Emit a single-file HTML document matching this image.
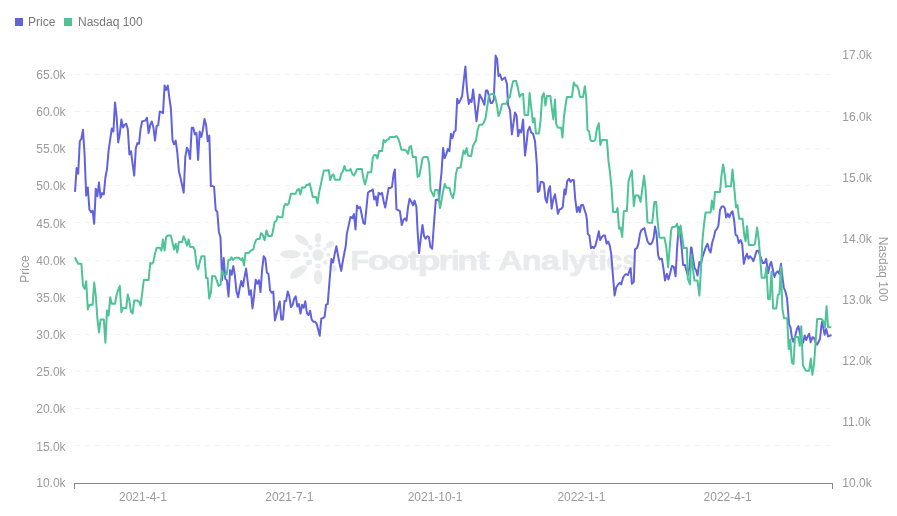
<!DOCTYPE html>
<html><head><meta charset="utf-8"><title>Price vs Nasdaq 100</title>
<style>
html,body{margin:0;padding:0;background:#fff;}
body{width:897px;height:516px;overflow:hidden;font-family:"Liberation Sans",Arial,sans-serif;}
svg{display:block}
text{font-family:"Liberation Sans",Arial,sans-serif;font-size:12px;fill:#9a9a9a}
</style></head><body>
<svg width="897" height="516" viewBox="0 0 897 516">
<rect width="897" height="516" fill="#fff"/>
<g stroke="#f2f2f2" stroke-width="1" stroke-dasharray="5 5"><line x1="75" x2="833" y1="445.50" y2="445.50"/><line x1="75" x2="833" y1="408.50" y2="408.50"/><line x1="75" x2="833" y1="371.50" y2="371.50"/><line x1="75" x2="833" y1="334.50" y2="334.50"/><line x1="75" x2="833" y1="297.50" y2="297.50"/><line x1="75" x2="833" y1="260.50" y2="260.50"/><line x1="75" x2="833" y1="222.50" y2="222.50"/><line x1="75" x2="833" y1="185.50" y2="185.50"/><line x1="75" x2="833" y1="148.50" y2="148.50"/><line x1="75" x2="833" y1="111.50" y2="111.50"/><line x1="75" x2="833" y1="74.50" y2="74.50"/></g>
<g id="wm" fill="#e9eaec">
<circle cx="318.1" cy="255" r="5.8"/>
<ellipse cx="290.4" cy="254.2" rx="10.3" ry="4.2"/>
<ellipse cx="302" cy="240" rx="8" ry="3.6" transform="rotate(36 302 240)"/>
<ellipse cx="318.1" cy="238" rx="3.3" ry="4.9"/>
<ellipse cx="330" cy="244.4" rx="4.3" ry="3" transform="rotate(-36 330 244.4)"/>
<ellipse cx="332.8" cy="268.1" rx="4.3" ry="3.2" transform="rotate(40 332.8 268.1)"/>
<ellipse cx="318.1" cy="277.2" rx="4.2" ry="7.3"/>
<ellipse cx="298.4" cy="272" rx="10" ry="4.2" transform="rotate(-36 298.4 272)"/>
<ellipse cx="306" cy="254.5" rx="3" ry="2.7"/>
<ellipse cx="310.1" cy="247.4" rx="2.8" ry="2.2" transform="rotate(36 310.1 247.4)"/>
<ellipse cx="318.1" cy="245.4" rx="2.7" ry="1.9"/>
<circle cx="324.8" cy="248.9" r="1.8"/>
<circle cx="328.2" cy="255" r="2.1"/>
<circle cx="325.2" cy="262.5" r="2.2"/>
<ellipse cx="318.1" cy="265.9" rx="2.7" ry="2.3"/>
<ellipse cx="309" cy="262.8" rx="3.3" ry="2.5" transform="rotate(-36 309 262.8)"/>
<text y="269.6" style="font-size:28.5px;font-weight:bold;fill:#e9eaec;stroke:#e9eaec;stroke-width:0.7px;stroke-linejoin:round"><tspan x="350.52" textLength="18.56" lengthAdjust="spacingAndGlyphs">F</tspan><tspan x="367.45" textLength="22.13" lengthAdjust="spacingAndGlyphs">o</tspan><tspan x="387.55" textLength="22.13" lengthAdjust="spacingAndGlyphs">o</tspan><tspan x="407.85" textLength="11.60" lengthAdjust="spacingAndGlyphs">t</tspan><tspan x="417.43" textLength="23.22" lengthAdjust="spacingAndGlyphs">p</tspan><tspan x="438.51" textLength="13.68" lengthAdjust="spacingAndGlyphs">r</tspan><tspan x="450.67" textLength="9.26" lengthAdjust="spacingAndGlyphs">i</tspan><tspan x="457.53" textLength="20.40" lengthAdjust="spacingAndGlyphs">n</tspan><tspan x="477.22" textLength="12.57" lengthAdjust="spacingAndGlyphs">t</tspan><tspan x="498.15" textLength="24.58" lengthAdjust="spacingAndGlyphs">A</tspan><tspan x="521.67" textLength="20.03" lengthAdjust="spacingAndGlyphs">n</tspan><tspan x="540.76" textLength="19.31" lengthAdjust="spacingAndGlyphs">a</tspan><tspan x="560.77" textLength="9.26" lengthAdjust="spacingAndGlyphs">l</tspan><tspan x="568.56" textLength="18.95" lengthAdjust="spacingAndGlyphs">y</tspan><tspan x="587.36" textLength="11.28" lengthAdjust="spacingAndGlyphs">t</tspan><tspan x="598.07" textLength="9.26" lengthAdjust="spacingAndGlyphs">i</tspan><tspan x="606.23" textLength="16.28" lengthAdjust="spacingAndGlyphs">c</tspan><tspan x="622.45" textLength="13.56" lengthAdjust="spacingAndGlyphs">s</tspan></text>
</g><g>
<rect x="15" y="18" width="8" height="8" fill="#6262de"/>
<text x="28" y="25.5" style="fill:#777">Price</text>
<rect x="64" y="18" width="8" height="8" fill="#4dc396"/>
<text x="78" y="25.5" style="fill:#777">Nasdaq 100</text>
</g>
<g><text x="65.6" y="487.10" text-anchor="end">10.0k</text><text x="65.6" y="450.62" text-anchor="end">15.0k</text><text x="65.6" y="413.44" text-anchor="end">20.0k</text><text x="65.6" y="376.26" text-anchor="end">25.0k</text><text x="65.6" y="339.08" text-anchor="end">30.0k</text><text x="65.6" y="301.90" text-anchor="end">35.0k</text><text x="65.6" y="264.72" text-anchor="end">40.0k</text><text x="65.6" y="227.54" text-anchor="end">45.0k</text><text x="65.6" y="190.36" text-anchor="end">50.0k</text><text x="65.6" y="153.18" text-anchor="end">55.0k</text><text x="65.6" y="116.00" text-anchor="end">60.0k</text><text x="65.6" y="78.82" text-anchor="end">65.0k</text></g>
<g><text x="842.3" y="487.00">10.0k</text><text x="842.3" y="426.26">11.0k</text><text x="842.3" y="365.12">12.0k</text><text x="842.3" y="303.98">13.0k</text><text x="842.3" y="242.84">14.0k</text><text x="842.3" y="181.70">15.0k</text><text x="842.3" y="120.56">16.0k</text><text x="842.3" y="59.42">17.0k</text></g>
<g><text x="143" y="501.3" text-anchor="middle">2021-4-1</text><text x="289.3" y="501.3" text-anchor="middle">2021-7-1</text><text x="435" y="501.3" text-anchor="middle">2021-10-1</text><text x="581.4" y="501.3" text-anchor="middle">2022-1-1</text><text x="727.6" y="501.3" text-anchor="middle">2022-4-1</text></g>
<text transform="translate(29,269) rotate(-90)" text-anchor="middle">Price</text>
<text transform="translate(878.7,269) rotate(90)" text-anchor="middle">Nasdaq 100</text>
<polyline fill="none" stroke="#6262de" stroke-width="2" stroke-linejoin="round" points="75.0,191.9 76.6,168.1 78.2,173.8 79.8,141.2 81.4,138.8 83.0,129.8 84.6,155.0 86.2,195.6 87.8,187.5 89.4,209.4 91.0,212.2 92.6,210.6 94.2,223.8 95.8,188.8 97.4,196.2 99.0,182.5 100.6,197.8 102.2,193.1 103.8,194.4 105.4,177.5 107.0,169.0 108.6,150.6 110.2,139.4 111.8,128.5 113.4,131.5 115.0,102.5 116.6,116.2 118.2,142.5 119.8,133.8 121.4,119.4 123.0,127.5 124.6,124.8 126.2,123.8 127.8,129.0 129.4,154.4 131.0,151.2 132.6,164.0 134.2,175.6 135.8,148.5 137.4,143.1 139.0,143.8 140.6,128.8 142.2,121.2 143.8,120.9 145.4,120.5 147.0,117.8 148.6,133.1 150.2,125.0 151.8,121.5 153.4,127.5 155.0,140.6 156.6,126.2 158.2,125.2 159.8,111.5 161.4,112.2 163.0,113.1 164.6,85.4 166.2,90.0 167.8,85.6 169.4,98.1 170.9,108.5 172.5,140.0 174.1,144.4 175.7,140.6 177.3,152.5 178.9,171.2 180.5,177.8 182.1,185.2 183.7,192.8 185.3,156.9 186.9,147.8 188.5,151.0 190.1,159.0 191.7,127.8 193.3,127.8 194.9,134.4 196.5,133.1 198.1,160.0 199.7,131.5 201.3,136.9 202.9,130.0 204.5,119.0 206.1,125.0 207.7,141.2 209.3,135.6 210.9,186.0 212.5,186.0 214.1,186.9 215.7,210.0 217.3,211.9 218.9,231.9 220.5,237.5 222.1,280.0 223.7,258.1 225.3,278.8 226.9,280.4 228.5,296.5 230.1,270.1 231.7,274.7 233.3,266.1 234.9,275.7 236.5,291.8 238.1,297.3 239.7,288.3 241.3,281.0 242.9,286.5 244.5,277.2 246.1,268.6 247.7,281.7 249.3,294.8 250.9,290.3 252.5,308.5 254.1,295.3 255.7,279.7 257.3,283.7 258.9,280.2 260.5,292.1 262.1,270.1 263.7,256.2 265.3,258.5 266.9,272.6 268.5,274.0 270.1,290.3 271.7,292.8 273.3,291.5 274.9,320.5 276.5,314.2 278.1,307.7 279.7,301.4 281.3,319.6 282.9,319.6 284.5,301.1 286.1,300.9 287.7,291.4 289.3,296.3 290.9,307.0 292.5,305.2 294.1,299.1 295.7,296.3 297.3,306.4 298.9,304.0 300.5,313.5 302.1,304.7 303.7,307.8 305.3,301.3 306.9,313.1 308.5,315.0 310.1,310.8 311.7,319.7 313.3,321.7 314.9,321.7 316.5,323.2 318.1,329.3 319.7,335.8 321.3,318.7 322.9,318.0 324.5,317.2 326.1,304.6 327.7,304.1 329.8,277.5 331.4,259.0 333.1,262.6 334.6,254.4 336.4,246.2 337.8,254.4 339.4,262.8 341.2,270.9 342.6,262.5 344.2,253.7 345.8,245.6 346.8,234.1 350.5,216.9 352.4,218.1 353.9,214.0 355.5,229.4 357.0,205.6 358.6,208.1 360.1,207.1 361.8,215.0 363.4,223.1 364.9,224.0 366.5,207.5 368.0,192.5 369.9,191.2 371.4,190.6 372.8,189.4 374.2,199.4 375.8,196.5 377.1,205.6 378.6,192.8 380.2,194.4 382.0,192.8 383.6,201.2 385.2,207.5 387.0,197.5 388.6,188.1 390.2,188.1 392.0,186.9 393.6,173.8 394.9,169.4 396.5,209.4 398.0,210.0 399.9,211.2 401.8,225.0 403.4,220.0 404.9,218.4 406.5,220.6 408.0,207.5 409.6,198.8 411.1,201.2 413.0,205.4 414.5,200.6 416.4,206.9 417.6,231.2 419.1,253.1 420.9,237.5 422.5,225.0 424.1,236.2 425.6,238.8 427.2,236.2 428.9,237.1 430.4,246.9 432.2,248.8 433.9,224.4 435.8,200.0 437.4,199.4 439.0,201.2 440.6,181.2 441.5,172.5 443.1,148.1 444.6,158.1 446.2,154.4 447.8,149.0 449.4,151.2 450.9,133.8 452.5,138.1 454.1,131.5 455.6,130.6 457.2,98.8 458.8,103.1 460.4,100.0 462.1,96.2 463.8,80.0 465.4,66.5 466.9,88.8 468.8,104.0 470.2,99.6 471.6,101.9 473.1,89.4 474.8,105.0 476.5,121.2 478.1,107.5 479.6,94.4 481.2,97.5 482.9,101.2 484.4,104.8 485.9,90.4 487.5,90.4 489.0,96.2 490.6,102.9 492.1,102.9 493.8,99.8 495.6,55.6 497.1,58.8 498.5,76.2 500.0,74.4 501.9,80.0 503.4,78.8 505.0,77.5 506.9,83.8 508.1,105.0 510.0,110.0 511.9,134.4 515.0,112.5 516.6,115.6 518.1,136.2 519.6,130.0 521.2,132.5 523.1,119.4 525.0,155.6 526.5,143.8 527.9,130.6 529.6,126.9 531.2,132.5 533.1,133.8 535.0,141.2 536.9,165.0 537.8,191.9 539.4,190.6 540.6,181.9 542.2,181.9 543.8,183.1 545.4,198.8 546.9,202.5 548.5,190.0 550.0,186.2 551.6,208.8 553.4,198.8 555.0,194.4 556.5,203.8 557.9,213.8 559.6,209.4 561.2,208.8 562.8,206.9 564.4,189.4 565.6,194.4 567.2,181.2 569.0,178.8 570.6,181.9 572.1,180.0 573.8,180.0 575.2,198.8 576.9,211.9 578.5,206.9 579.8,212.2 581.2,205.0 583.1,205.0 584.6,210.0 586.2,215.0 586.9,220.0 587.8,233.8 589.4,235.6 591.0,248.1 592.5,246.9 594.0,248.1 595.6,245.0 597.2,238.8 598.8,231.2 600.2,240.0 601.9,236.9 603.4,235.6 605.0,235.6 606.6,243.8 608.1,241.5 609.8,245.6 611.2,253.8 612.8,273.8 614.6,295.6 616.2,287.5 618.1,284.4 619.8,282.8 621.2,284.4 623.1,277.5 624.8,275.0 626.2,274.0 627.9,275.0 629.4,271.2 630.6,268.1 631.9,283.8 633.8,281.9 635.0,249.4 636.9,248.1 638.4,243.8 640.0,233.8 641.2,230.6 643.1,228.8 644.4,228.1 645.9,235.0 647.5,241.2 649.1,243.8 650.6,244.4 652.2,242.5 653.8,236.9 655.0,226.5 656.5,233.8 658.1,255.0 659.6,259.4 661.9,258.8 663.5,268.8 665.0,280.6 666.9,273.8 668.5,279.4 670.0,273.8 671.9,266.0 673.8,266.9 675.6,276.2 677.2,246.2 678.8,226.9 680.0,232.5 681.5,246.2 683.1,265.0 685.0,265.0 686.2,270.0 687.8,275.0 689.4,267.5 691.0,247.5 691.5,247.5 693.1,258.8 694.6,268.1 696.0,270.0 697.5,275.6 699.4,261.9 701.0,264.0 702.5,256.9 704.0,252.5 705.9,246.9 707.5,243.8 709.1,250.0 710.6,252.5 712.2,242.5 713.8,237.5 715.4,230.6 716.9,228.8 718.4,225.6 720.0,210.0 721.5,206.9 723.1,206.2 724.8,208.1 726.2,217.5 727.8,213.8 729.4,217.2 730.9,213.1 732.5,211.2 734.1,220.0 735.6,235.0 737.2,235.6 738.8,243.1 740.6,240.0 742.2,243.8 743.8,263.8 745.4,257.5 746.9,253.8 748.5,258.8 750.0,256.2 751.6,258.1 753.4,261.2 755.0,256.2 756.6,251.0 758.1,250.6 759.6,253.8 761.2,258.8 762.8,263.1 764.4,263.1 766.2,258.8 768.1,273.1 769.8,265.0 771.2,261.9 772.9,270.0 774.4,276.9 776.0,273.1 777.8,271.2 779.4,273.8 781.0,263.8 782.5,277.5 783.8,287.5 785.4,291.5 787.0,298.0 788.3,314.0 789.1,324.4 790.5,327.5 791.9,337.5 793.4,341.8 795.3,335.6 796.9,329.0 798.4,326.1 800.0,333.7 801.5,341.2 803.1,342.8 804.7,335.5 806.2,340.0 807.8,336.2 809.2,333.7 810.6,342.2 812.5,337.2 814.0,338.2 815.6,342.5 817.1,344.7 818.6,341.8 820.0,339.0 820.9,330.6 821.8,322.0 823.4,327.8 824.6,334.7 826.2,329.0 828.1,336.5 829.6,335.9 831.5,335.0"/>
<polyline fill="none" stroke="#4dc396" stroke-width="2" stroke-linejoin="round" points="75.0,257.2 76.6,261.0 78.2,263.8 79.8,263.8 81.4,263.8 83.0,285.6 84.6,288.8 86.2,281.2 87.8,309.4 89.4,305.0 91.0,304.8 92.6,304.8 94.2,282.5 95.8,296.2 97.4,318.8 99.0,332.5 100.6,319.4 102.2,319.4 103.8,319.4 105.4,342.8 107.0,310.6 108.6,315.6 110.2,297.2 111.8,303.8 113.4,303.8 115.0,303.8 116.6,295.0 118.2,289.8 119.8,286.0 121.4,312.2 123.0,308.1 124.6,308.1 126.2,308.1 127.8,294.4 129.4,300.6 131.0,311.9 132.6,313.5 134.2,300.6 135.8,300.6 137.4,300.6 139.0,301.6 140.6,305.6 142.2,293.1 143.8,280.0 145.4,280.0 147.0,280.0 148.6,280.0 150.2,263.1 151.8,263.8 153.4,261.9 155.0,253.8 156.6,248.1 158.2,247.8 159.8,247.8 161.4,250.6 163.0,239.4 164.6,250.6 166.2,236.9 167.8,235.6 169.4,235.6 170.9,235.6 172.5,242.5 174.1,249.4 175.7,243.8 177.3,252.5 178.9,241.9 180.5,241.9 182.1,241.9 183.6,236.2 185.2,240.0 187.0,245.6 188.6,239.4 190.1,246.9 191.8,246.9 193.2,246.9 194.9,250.0 196.5,265.0 198.2,269.4 199.9,261.9 201.4,256.2 203.0,256.2 204.5,256.2 206.1,278.1 207.6,278.1 209.2,298.5 210.8,293.1 212.2,276.0 213.6,276.2 215.1,276.2 216.8,280.6 218.6,285.9 220.5,284.6 222.0,270.6 223.6,274.4 225.2,274.4 226.8,274.4 228.4,260.0 229.9,260.0 231.5,257.2 233.0,260.0 234.5,258.1 236.1,257.8 237.8,257.8 239.2,257.8 240.9,260.0 242.4,258.1 244.0,265.6 245.5,253.1 247.1,253.1 248.6,253.1 250.2,251.2 251.8,250.0 253.4,249.4 254.9,242.5 256.5,239.4 258.0,239.0 259.6,239.0 261.1,233.1 262.8,235.0 264.6,240.2 266.5,230.4 268.2,235.9 270.1,235.9 271.8,235.9 273.2,229.8 274.6,221.9 276.1,221.2 277.6,216.2 279.2,216.9 280.9,217.2 282.4,217.2 284.0,206.2 285.5,203.8 287.1,205.0 288.6,203.8 290.9,193.8 292.5,193.8 294.1,193.8 295.6,193.8 297.1,190.0 298.8,188.8 300.4,194.4 301.9,187.5 303.5,187.5 305.0,187.5 306.5,184.8 308.1,185.0 309.8,183.4 311.2,190.0 312.8,196.9 314.4,196.9 316.0,196.9 317.5,203.4 319.1,192.5 320.6,185.6 322.1,178.1 323.8,170.6 325.4,170.6 326.9,170.6 328.8,170.0 330.2,180.0 331.9,175.6 333.4,174.4 335.0,179.8 336.5,179.8 338.1,179.8 339.8,179.8 341.2,173.8 342.9,171.2 344.4,165.9 346.0,170.6 347.5,170.6 349.1,170.6 350.6,169.0 352.2,173.8 354.0,175.6 355.6,172.5 357.1,169.0 358.8,169.0 360.4,169.0 361.9,169.0 363.5,178.8 365.0,184.4 366.5,178.8 367.9,172.2 369.6,172.2 371.2,172.2 372.8,157.5 374.2,155.0 375.9,155.0 377.4,158.5 379.0,151.0 380.5,151.0 382.1,151.0 383.6,139.8 385.1,142.2 386.8,140.0 388.4,139.4 389.9,136.9 391.8,136.9 393.2,136.9 394.9,136.9 396.5,136.0 398.0,138.1 399.6,142.5 401.4,149.8 403.0,149.8 404.5,149.8 406.1,150.6 408.0,153.8 409.5,146.9 411.1,146.0 412.8,156.9 414.2,156.9 415.9,156.9 417.6,176.9 419.2,176.2 420.9,167.5 422.6,158.1 424.0,156.9 425.8,156.9 427.6,156.9 429.2,164.4 430.6,190.0 432.2,193.1 433.8,196.2 435.0,190.0 436.5,190.0 438.1,190.0 440.0,208.1 441.6,200.0 443.1,191.2 444.8,183.8 446.2,187.5 447.9,187.8 449.4,187.8 451.0,193.8 452.9,198.1 454.4,191.9 455.9,173.8 457.5,168.1 459.1,167.8 460.6,167.5 461.9,159.4 463.5,150.6 465.0,153.8 466.6,148.1 468.1,155.6 469.8,156.0 471.2,156.0 472.9,146.2 474.4,143.1 476.0,140.6 477.5,130.6 479.1,125.0 480.6,124.8 482.2,124.8 483.8,122.5 485.6,118.1 487.1,107.5 488.8,96.2 490.4,94.4 491.9,94.0 493.5,94.0 495.0,96.2 496.9,105.0 498.5,116.0 500.0,112.5 501.9,104.4 503.4,103.8 505.0,103.8 506.6,103.8 508.1,98.1 509.8,97.5 511.2,89.4 513.1,81.2 514.8,81.0 516.2,81.0 517.9,88.1 519.6,96.9 521.2,94.4 523.1,94.0 524.6,115.0 526.2,115.0 528.1,115.0 529.6,93.1 531.2,107.5 532.9,122.5 534.5,118.1 536.0,133.5 537.5,133.5 539.0,133.5 540.6,120.0 542.1,96.9 543.8,93.1 545.4,105.6 546.9,96.0 548.5,96.0 550.4,96.0 551.9,108.8 553.4,119.4 555.0,99.4 556.2,123.8 557.8,127.5 559.4,127.8 561.2,127.8 562.5,137.5 563.9,117.5 565.2,107.5 566.9,96.9 568.5,96.9 570.2,96.9 571.9,96.9 573.8,82.5 575.2,85.6 576.9,85.6 578.5,89.4 580.0,96.9 581.6,96.9 583.1,96.9 584.8,86.2 586.2,96.9 587.5,130.0 589.0,131.2 590.6,140.6 592.1,141.0 593.8,141.0 595.2,140.0 596.9,128.8 598.8,123.4 600.4,145.0 601.9,140.0 603.8,140.0 605.4,140.0 606.9,140.0 608.5,161.2 610.0,172.5 611.5,187.5 613.1,211.9 614.8,211.9 616.2,211.9 617.5,208.1 619.1,228.8 620.6,227.5 622.2,236.9 623.8,211.2 625.4,211.0 626.9,211.0 628.5,181.2 630.0,176.2 631.9,170.6 633.8,206.2 635.2,195.6 636.9,195.6 638.5,195.6 640.6,201.9 642.5,187.5 644.1,175.6 645.6,190.0 647.5,222.5 649.1,222.8 650.6,222.8 652.2,222.8 654.4,201.9 656.2,201.9 657.5,220.0 659.4,237.5 661.0,237.8 662.5,237.8 664.4,237.8 666.2,246.2 668.1,267.5 669.8,246.2 671.2,230.0 672.2,226.9 673.8,226.9 675.4,226.6 677.2,223.8 679.0,236.2 680.6,225.6 682.2,237.5 683.8,248.1 685.4,248.1 686.9,248.1 687.8,278.8 690.0,284.4 691.2,254.4 692.8,267.5 694.4,280.6 696.0,280.6 697.5,280.6 699.4,295.6 701.0,268.8 702.5,240.0 703.8,226.2 705.6,212.5 707.2,212.5 708.8,212.5 710.6,212.5 711.9,200.6 713.5,209.4 715.0,191.9 716.6,191.9 718.1,191.9 720.0,191.9 721.5,175.6 723.1,164.4 724.8,175.0 726.0,186.9 727.5,186.2 729.4,186.2 731.0,186.2 732.5,169.4 734.1,186.2 736.0,207.5 737.5,205.0 739.1,218.8 740.9,218.8 742.5,218.8 744.4,236.2 745.6,241.2 747.1,226.2 748.8,245.0 750.2,245.0 751.9,245.0 753.5,245.0 755.0,243.8 757.1,227.5 758.8,240.0 761.7,277.8 763.3,277.8 764.9,277.8 766.4,267.0 768.1,299.0 769.8,299.3 771.5,271.7 773.1,308.4 774.7,308.4 776.3,308.4 777.9,294.9 779.4,294.1 780.9,266.8 782.4,308.7 784.0,318.3 785.6,318.3 787.2,318.3 788.7,349.3 790.3,339.6 791.9,362.7 793.5,364.0 795.0,337.1 796.6,337.1 798.2,337.1 799.8,345.8 801.3,326.2 802.9,365.1 804.5,368.4 806.1,370.7 807.7,370.7 809.2,370.7 810.8,358.6 812.4,374.8 814.0,364.2 815.5,343.8 817.1,319.1 818.7,319.1 820.3,319.1 821.8,319.1 823.4,321.5 825.0,327.2 826.6,306.3 828.1,327.2 829.7,327.2 831.3,327.2"/>
<path d="M74.5 489V483.5H832.5V489" fill="none" stroke="#888" stroke-width="1" shape-rendering="crispEdges"/>
</svg>
</body></html>
